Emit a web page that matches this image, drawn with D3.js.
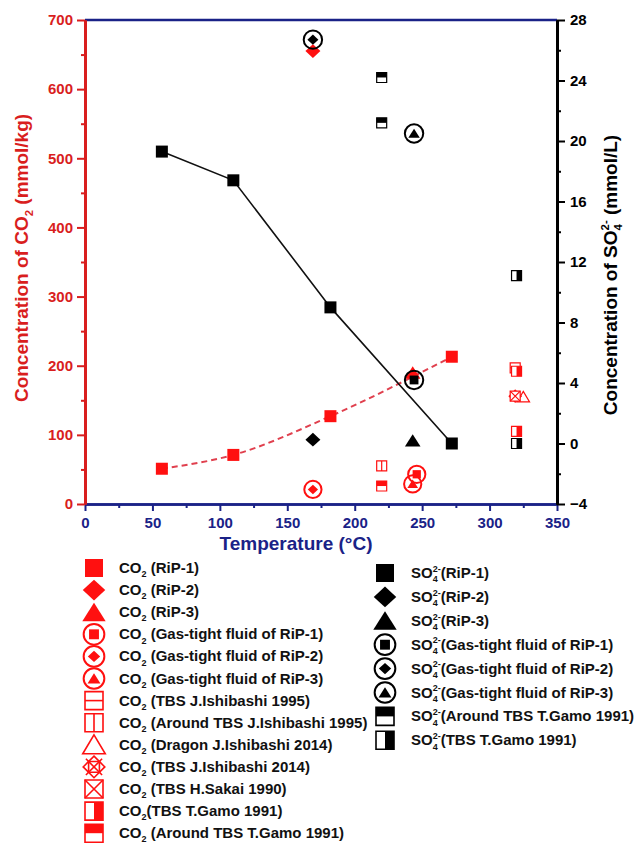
<!DOCTYPE html>
<html>
<head>
<meta charset="utf-8">
<script src="https://cdnjs.cloudflare.com/ajax/libs/d3/7.8.5/d3.min.js"></script>
<style>
  body { margin: 0; background: #fff; }
  svg { display: block; font-family: Arial, 'Liberation Sans', sans-serif; font-weight: bold; }
</style>
</head>
<body>
<svg id="chart" width="643" height="846"></svg>
<script>
// CO2 points, [temperature (°C), CO2 (mmol/kg)]
const co2RiP1 = [[57, 51], [110, 71], [182, 127], [272, 213]];
const co2RiP2 = [[169, 655]];
const co2RiP3 = [[243, 190]];
const co2GasTight1 = [[246, 43]];
const co2GasTight2 = [[169, 21]];
const co2GasTight3 = [[243, 29]];
const co2IshibashiTbs1995 = [[319, 197]];
const co2IshibashiAround1995 = [[220, 55]];
const co2IshibashiDragon2014 = [[325, 155]];
const co2IshibashiTbs2014 = [[319, 156]];
const co2SakaiTbs1990 = [[319, 156]];
const co2GamoTbs1991 = [[320, 192], [320, 105]];
const co2GamoAround1991 = [[220, 26]];

// SO4 points, [temperature (°C), SO4 2- (mmol/L)]
const so4RiP1 = [[57, 19.3], [110, 17.4], [182, 9.0], [272, 0]];
const so4RiP2 = [[169, 0.25]];
const so4RiP3 = [[243, 0.2]];
const so4GasTight1 = [[244, 4.2]];
const so4GasTight2 = [[169, 26.7]];
const so4GasTight3 = [[244, 20.5]];
const so4GamoAround1991 = [[220, 24.2], [220, 21.2]];
const so4GamoTbs1991 = [[320, 11.1], [320, 0]];

// ticks
const xTicks = [0, 50, 100, 150, 200, 250, 300, 350];
const co2Ticks = [0, 100, 200, 300, 400, 500, 600, 700];
const so4Ticks = [-4, 0, 4, 8, 12, 16, 20, 24, 28];

// legend
const co2Labels = [' (RiP-1)', ' (RiP-2)', ' (RiP-3)', ' (Gas-tight fluid of RiP-1)', ' (Gas-tight fluid of RiP-2)',
  ' (Gas-tight fluid of RiP-3)', ' (TBS J.Ishibashi 1995)', ' (Around TBS J.Ishibashi 1995)', ' (Dragon J.Ishibashi 2014)',
  ' (TBS J.Ishibashi 2014)', ' (TBS H.Sakai 1990)', '(TBS T.Gamo 1991)', ' (Around TBS T.Gamo 1991)'];
const co2Shapes = ['square', 'diamond', 'triangle', 'circleSquare', 'circleDiamond', 'circleTriangle', 'squareH',
  'squareV', 'openTriangle', 'lattice', 'squareX', 'rightHalf', 'topHalf'];
const so4Labels = ['(RiP-1)', '(RiP-2)', '(RiP-3)', '(Gas-tight fluid of RiP-1)', '(Gas-tight fluid of RiP-2)',
  '(Gas-tight fluid of RiP-3)', '(Around TBS T.Gamo 1991)', '(TBS T.Gamo 1991)'];
const so4Shapes = ['square', 'diamond', 'triangle', 'circleSquare', 'circleDiamond', 'circleTriangle', 'topHalf', 'rightHalf'];

const RED = '#ff1010';
const AXRED = '#d91e1e';
const NAVY = '#1a2287';

const svg = d3.select('#chart');
const x = d3.scaleLinear().domain([0, 350]).range([85, 557]);
const yCO2 = d3.scaleLinear().domain([0, 700]).range([504, 20]);
const ySO4 = d3.scaleLinear().domain([-4, 28]).range([504, 20]);

function drawSymbol(g, shape, s, color) {
  const h = s / 2, sw = s > 14 ? 1.6 : 1.2;
  const open = (d) => g.append('path').attr('d', d).attr('fill', '#fff').attr('stroke', color).attr('stroke-width', sw);
  const line = (d) => g.append('path').attr('d', d).attr('fill', 'none').attr('stroke', color).attr('stroke-width', sw);
  const box = `M${-h},${-h}H${h}V${h}H${-h}Z`;
  switch (shape) {
    case 'square':
      g.append('rect').attr('x', -h).attr('y', -h).attr('width', s).attr('height', s).attr('fill', color);
      break;
    case 'diamond':
      g.append('path').attr('d', `M0,${-h * 1.15}L${h * 1.25},0L0,${h * 1.15}L${-h * 1.25},0Z`).attr('fill', color);
      break;
    case 'triangle':
      g.append('path').attr('d', `M0,${-h * 1.05}L${h * 1.3},${h}L${-h * 1.3},${h}Z`).attr('fill', color);
      break;
    case 'circleSquare':
    case 'circleDiamond':
    case 'circleTriangle':
      g.append('circle').attr('r', h * 1.15).attr('fill', 'none').attr('stroke', color).attr('stroke-width', s > 14 ? 2 : 1.6);
      drawSymbol(g, { circleSquare: 'square', circleDiamond: 'diamond', circleTriangle: 'triangle' }[shape], s * 0.55, color);
      break;
    case 'squareH':
      open(box); line(`M${-h},0H${h}`);
      break;
    case 'squareV':
      open(box); line(`M0,${-h}V${h}`);
      break;
    case 'openTriangle':
      open(`M0,${-h * 1.1}L${h * 1.25},${h}L${-h * 1.25},${h}Z`);
      break;
    case 'lattice':
      line(`M0,${-h * 1.2}L${h * 1.2},0L0,${h * 1.2}L${-h * 1.2},0Z`);
      line(`M${-h * 0.9},${-h * 0.9}L${h * 0.9},${h * 0.9}M${h * 0.9},${-h * 0.9}L${-h * 0.9},${h * 0.9}`);
      line(`M${-h * 0.6},${-h * 0.6}L${h * 0.6},${-h * 0.6}L${h * 0.6},${h * 0.6}L${-h * 0.6},${h * 0.6}Z`);
      break;
    case 'squareX':
      open(box); line(`M${-h},${-h}L${h},${h}M${h},${-h}L${-h},${h}`);
      break;
    case 'rightHalf':
      open(box);
      g.append('rect').attr('x', 0).attr('y', -h).attr('width', h).attr('height', s).attr('fill', color);
      break;
    case 'topHalf':
      open(box);
      g.append('rect').attr('x', -h).attr('y', -h).attr('width', s).attr('height', h).attr('fill', color);
      break;
  }
}

// formula text: pieces of [text, kind], kind 'n' normal, 'sub' subscript, 'over' superscript stacked over the subscript
function formula(text, fs, pieces) {
  let shift = 0, lastSubW = 0;
  pieces.forEach(([t, kind]) => {
    const ts = text.append('tspan').text(t);
    if (kind === 'sub') {
      ts.attr('font-size', fs * 0.6).attr('dy', fs * 0.28 - shift);
      shift = fs * 0.28;
      lastSubW = t.length * fs * 0.6 * 0.556;
    } else if (kind === 'over') {
      ts.attr('font-size', fs * 0.6).attr('dy', -fs * 0.42 - shift).attr('dx', -lastSubW);
      shift = -fs * 0.42;
    } else {
      ts.attr('font-size', fs).attr('dy', -shift);
      shift = 0;
    }
  });
}

// frame top line
svg.append('line').attr('x1', x(0)).attr('x2', x(350)).attr('y1', yCO2(700)).attr('y2', yCO2(700))
  .attr('stroke', NAVY).attr('stroke-width', 2.5);

function styleAxis(g, color, domainW) {
  g.select('.domain').attr('stroke', color).attr('stroke-width', domainW);
  g.selectAll('.tick line').attr('stroke', color).attr('stroke-width', 2);
  g.selectAll('.tick text').attr('fill', color).attr('font-size', 15).attr('font-weight', 'bold')
    .attr('font-family', 'Arial, Liberation Sans, sans-serif');
}

// minor ticks
const xMinor = d3.range(25, 350, 50);
const co2Minor = d3.range(50, 700, 100);
const so4Minor = d3.range(-2, 28, 4);

svg.append('g').attr('transform', 'translate(0,504)')
  .call(d3.axisBottom(x).tickValues(xMinor).tickSize(4).tickSizeOuter(0).tickFormat(''))
  .call(g => styleAxis(g, NAVY, 2.5));
svg.append('g').attr('transform', 'translate(0,504)')
  .call(d3.axisBottom(x).tickValues(xTicks).tickSize(7).tickSizeOuter(0).tickPadding(6))
  .call(g => styleAxis(g, NAVY, 2.5));

svg.append('g').attr('transform', `translate(${x(0)},0)`)
  .call(d3.axisLeft(yCO2).tickValues(co2Minor).tickSize(4).tickSizeOuter(0).tickFormat(''))
  .call(g => styleAxis(g, AXRED, 3));
svg.append('g').attr('transform', `translate(${x(0)},0)`)
  .call(d3.axisLeft(yCO2).tickValues(co2Ticks).tickSize(8).tickSizeOuter(0).tickPadding(4))
  .call(g => styleAxis(g, AXRED, 3));

svg.append('g').attr('transform', `translate(${x(350)},0)`)
  .call(d3.axisRight(ySO4).tickValues(so4Minor).tickSize(4).tickSizeOuter(0).tickFormat(''))
  .call(g => styleAxis(g, '#000', 3));
svg.append('g').attr('transform', `translate(${x(350)},0)`)
  .call(d3.axisRight(ySO4).tickValues(so4Ticks).tickSize(8).tickSizeOuter(0).tickPadding(5))
  .call(g => styleAxis(g, '#000', 3));

// axis titles
svg.append('text').attr('x', 296).attr('y', 550).attr('text-anchor', 'middle')
  .attr('fill', NAVY).attr('font-size', 19).text('Temperature (°C)');

const leftTitle = svg.append('text').attr('transform', 'translate(28,258) rotate(-90)')
  .attr('text-anchor', 'middle').attr('fill', AXRED);
formula(leftTitle, 19, [['Concentration of CO', 'n'], ['2', 'sub'], [' (mmol/kg)', 'n']]);

const rightTitle = svg.append('text').attr('transform', 'translate(617,275) rotate(-90)')
  .attr('text-anchor', 'middle').attr('fill', '#000');
formula(rightTitle, 19, [['Concentration of SO', 'n'], ['4', 'sub'], ['2-', 'over'], [' (mmol/L)', 'n']]);

// lines
svg.append('path').datum(co2RiP1)
  .attr('d', d3.line().x(d => x(d[0])).y(d => yCO2(d[1])).curve(d3.curveMonotoneX))
  .attr('fill', 'none').attr('stroke', '#e0404e').attr('stroke-width', 2).attr('stroke-dasharray', '6,4');
svg.append('path').datum(so4RiP1)
  .attr('d', d3.line().x(d => x(d[0])).y(d => ySO4(d[1])))
  .attr('fill', 'none').attr('stroke', '#111').attr('stroke-width', 1.6);

// markers
const co2Series = [
  [co2IshibashiTbs1995, 'squareH', 10], [co2IshibashiAround1995, 'squareV', 10], [co2IshibashiDragon2014, 'openTriangle', 10],
  [co2IshibashiTbs2014, 'lattice', 10], [co2SakaiTbs1990, 'squareX', 10], [co2GamoTbs1991, 'rightHalf', 10],
  [co2GamoAround1991, 'topHalf', 10],
  [co2RiP1, 'square', 12], [co2RiP2, 'diamond', 12], [co2RiP3, 'triangle', 12],
  [co2GasTight3, 'circleTriangle', 15], [co2GasTight1, 'circleSquare', 15], [co2GasTight2, 'circleDiamond', 15]
];
const so4Series = [
  [so4GamoAround1991, 'topHalf', 10], [so4GamoTbs1991, 'rightHalf', 10],
  [so4RiP1, 'square', 12], [so4RiP2, 'diamond', 12], [so4RiP3, 'triangle', 12],
  [so4GasTight1, 'circleSquare', 16], [so4GasTight2, 'circleDiamond', 16], [so4GasTight3, 'circleTriangle', 16]
];

co2Series.forEach(([data, shape, size]) => {
  svg.append('g').selectAll('g').data(data).join('g')
    .attr('transform', d => `translate(${x(d[0])},${yCO2(d[1])})`)
    .each(function () { drawSymbol(d3.select(this), shape, size, RED); });
});
so4Series.forEach(([data, shape, size]) => {
  svg.append('g').selectAll('g').data(data).join('g')
    .attr('transform', d => `translate(${x(d[0])},${ySO4(d[1])})`)
    .each(function () { drawSymbol(d3.select(this), shape, size, '#000'); });
});

// legends
co2Labels.forEach((label, i) => {
  const y = 568 + i * 22.1;
  drawSymbol(svg.append('g').attr('transform', `translate(94,${y})`), co2Shapes[i], 18, RED);
  const t = svg.append('text').attr('x', 119).attr('y', y + 5).attr('fill', '#111');
  formula(t, 15, [['CO', 'n'], ['2', 'sub'], [label, 'n']]);
});
so4Labels.forEach((label, i) => {
  const y = 573 + i * 23.9;
  drawSymbol(svg.append('g').attr('transform', `translate(385,${y})`), so4Shapes[i], 18, '#000');
  const t = svg.append('text').attr('x', 411).attr('y', y + 5).attr('fill', '#111');
  formula(t, 15, [['SO', 'n'], ['4', 'sub'], ['2-', 'over'], [label, 'n']]);
});
</script>
</body>
</html>
